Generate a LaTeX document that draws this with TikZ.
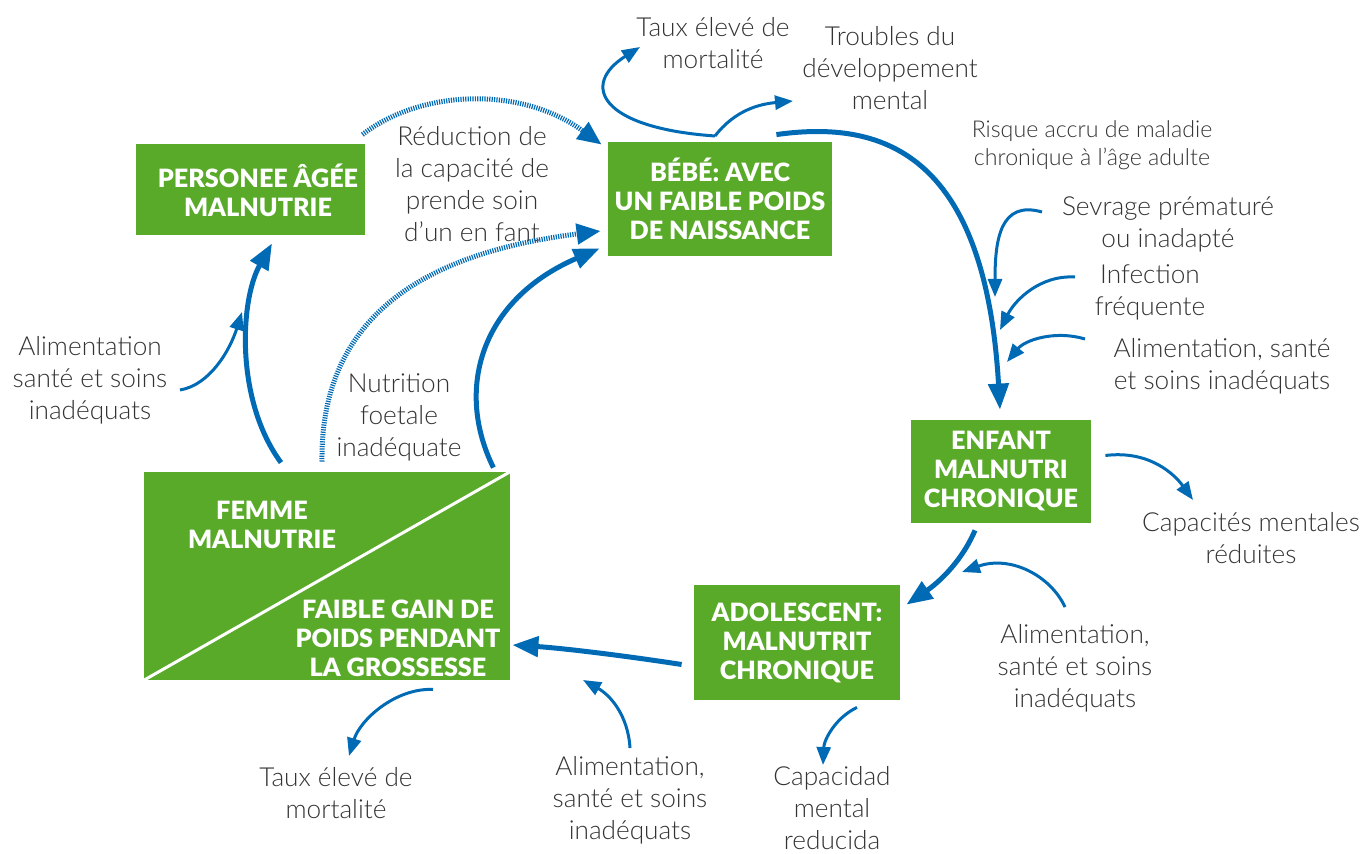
\documentclass[tikz,border=0pt]{standalone}
\usepackage{fontspec}
\setmainfont{Lato Light}
\newfontfamily\boxfont{Lato Black}
\usetikzlibrary{arrows.meta,positioning}
\definecolor{vert}{RGB}{89,170,41}
\definecolor{bleu}{RGB}{0,106,180}
\definecolor{texte}{RGB}{51,51,51}

\tikzset{
  boite/.style={fill=vert, text=white, font=\boxfont\fontsize{12.6}{14.5}\selectfont, align=center, inner sep=0pt},
  legende/.style={text=texte, font=\fontsize{13.1}{16}\selectfont, align=center, inner sep=0pt},
  cycle/.style={bleu, line width=2.5pt, -{Triangle[length=13pt,width=10pt]}},
  effet/.style={bleu, line width=1.5pt, -{Triangle[length=9pt,width=7pt]}},
  lien/.style={bleu, line width=2.5pt, dash pattern=on 0.6pt off 0.6pt, -{Triangle[length=12pt,width=10pt]}},
}

\begin{document}
\begin{tikzpicture}[x=0.5pt, y=-0.5pt]
    \useasboundingbox (0,0) rectangle (1365,854);

    % boites du cycle
    \node[fill=vert, minimum width=114.5pt, minimum height=45.5pt, inner sep=0pt] (agee) at (250.5,189.5) {};
    \node[boite, fill=none] (ageetxt) at (258,190) {PERSONEE ÂGÉE\\MALNUTRIE};
    \node[boite, minimum width=112pt, minimum height=57pt] (bebe) at (720,199) {BÉBÉ: AVEC\\UN FAIBLE POIDS\\DE NAISSANCE};
    \node[boite, minimum width=90pt, minimum height=51.5pt] (enfant) at (1001,471.5) {ENFANT\\MALNUTRI\\CHRONIQUE};
    \node[boite, minimum width=103pt, minimum height=57.5pt] (ado) at (797,642.5) {ADOLESCENT:\\MALNUTRIT\\CHRONIQUE};
    \node[fill=vert, minimum width=183pt, minimum height=104pt, inner sep=0pt] (femme) at (327,576) {};
    \draw[white, line width=1.5pt] (femme.south west) -- (femme.north east);
    \node[boite, fill=none] (femmetxt) at (262,525) {FEMME\\MALNUTRIE};
    \node[boite, fill=none] (gain) at (398,638) {FAIBLE GAIN DE\\POIDS PENDANT\\LA GROSSESSE};

    % legendes
    \node[legende] (tauxhaut) at (713,43) {Taux élevé de\\mortalité};
    \node[legende] (troubles) at (890,68) {Troubles du\\développement\\mental};
    \node[legende, font=\fontsize{11.6}{14}\selectfont] (risque) at (1092,145) {Risque accru de maladie\\chronique à l’âge adulte};
    \node[legende] (sevrage) at (1168,224) {Sevrage prématuré\\ou inadapté};
    \node[legende] (infection) at (1150,292) {Infection\\fréquente};
    \node[legende] (alimenfant) at (1222,366) {Alimentation, santé\\et soins inadéquats};
    \node[legende] (capacites) at (1251,538) {Capacités mentales\\réduites};
    \node[legende] (alimado) at (1075,668) {Alimentation,\\santé et soins\\inadéquats};
    \node[legende] (capacidad) at (832,808) {Capacidad\\mental\\reducida};
    \node[legende] (alimgain) at (630,800) {Alimentation,\\santé et soins\\inadéquats};
    \node[legende] (tauxbas) at (336,793) {Taux élevé de\\mortalité};
    \node[legende] (alimagee) at (90,380) {Alimentation\\santé et soins\\inadéquats};
    \node[legende] (foetale) at (399,417) {Nutrition\\foetale\\inadéquate};
    \node[legende] (reduction) at (472,184) {Réduction de\\la capacité de\\prende soin\\d’un en fant};

    % points libres des fleches
    \coordinate (jonction) at (715,136);
    \coordinate (ptaux) at (640,47);
    \coordinate (ptroubles) at (793,101);
    \coordinate (ssevrage) at (1042,212);
    \coordinate (psevrage) at (995,297);
    \coordinate (sinfection) at (1075,277);
    \coordinate (pinfection) at (1000,330);
    \coordinate (salimenfant) at (1085,339);
    \coordinate (palimenfant) at (1007,362);
    \coordinate (pcapacites) at (1193,500);
    \coordinate (salimado) at (1065,607);
    \coordinate (palimado) at (962,572);
    \coordinate (pcapacidad) at (823,765);
    \coordinate (salimgain) at (630,748);
    \coordinate (palimgain) at (583,680);
    \coordinate (ptauxbas) at (349,756);
    \coordinate (salimagee) at (180,390);
    \coordinate (palimagee) at (242,312);

    % cycle
    \draw[cycle] ([shift={(-56,-7)}]bebe.north east) .. controls (880,120) and (985,150) .. ([shift={(-1,-10)}]enfant.north);
    \draw[cycle] ([shift={(-26,7)}]enfant.south) .. controls (960,565) and (935,585) .. ([shift={(6,20)}]ado.north east);
    \draw[cycle] ([shift={(-12,22)}]ado.west) .. controls (620,655) and (560,648) .. ([shift={(2,69)}]femme.east);
    \draw[cycle] ([shift={(-46,-9)}]femme.north) .. controls (235,400) and (240,300) .. ([shift={(21.5,8)}]agee.south);
    \draw[cycle] ([shift={(-17,-4)}]femme.north east) .. controls (455,390) and (480,300) .. ([shift={(-8,-8)}]bebe.south west);

    % liens indirects
    \draw[lien] ([shift={(-3,-9)}]agee.north east) .. controls (420,90) and (520,85) .. ([shift={(-6,3)}]bebe.north west);
    \draw[lien] ([shift={(-5,-10)}]femme.north) .. controls (320,300) and (450,250) .. ([shift={(-7,32)}]bebe.west);

    % effets et causes
    \draw[effet] (jonction) .. controls (600,128) and (580,85) .. (ptaux);
    \draw[effet] (jonction) .. controls (735,110) and (760,104) .. (ptroubles);
    \draw[effet] (ssevrage) .. controls (1000,200) and (995,240) .. (psevrage);
    \draw[effet] (sinfection) .. controls (1040,275) and (1015,300) .. (pinfection);
    \draw[effet] (salimenfant) .. controls (1055,330) and (1025,340) .. (palimenfant);
    \draw[effet] ([shift={(14,-16)}]enfant.east) .. controls (1150,450) and (1175,475) .. (pcapacites);
    \draw[effet] (salimado) .. controls (1050,575) and (1010,555) .. (palimado);
    \draw[effet] ([shift={(60,7)}]ado.south) .. controls (835,718) and (824,740) .. (pcapacidad);
    \draw[effet] (salimgain) .. controls (628,715) and (610,695) .. (palimgain);
    \draw[effet] ([shift={(106,9)}]femme.south) .. controls (395,688) and (360,720) .. (ptauxbas);
    \draw[effet] (salimagee) .. controls (210,385) and (230,350) .. (palimagee);

\end{tikzpicture}
\end{document}
